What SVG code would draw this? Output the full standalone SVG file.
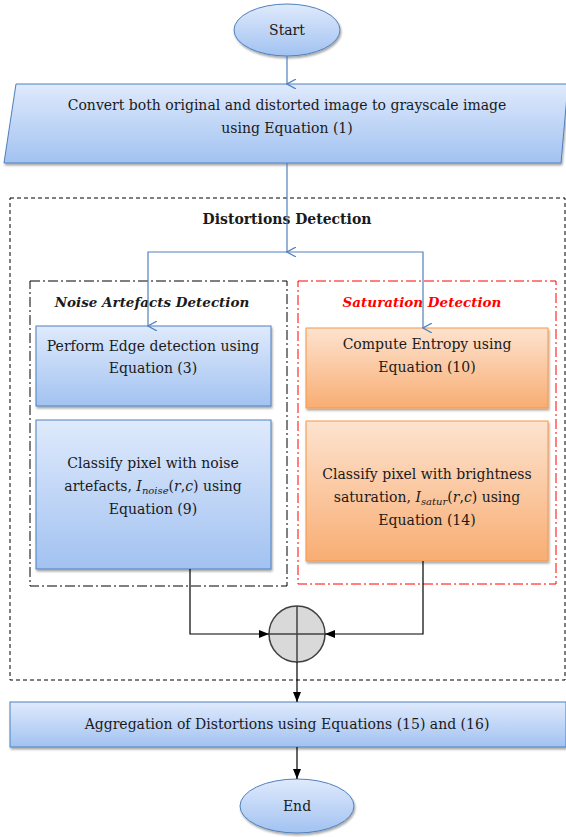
<svg xmlns="http://www.w3.org/2000/svg" width="566" height="837" viewBox="0 0 566 837">
<defs>
<linearGradient id="gBlue" x1="0" y1="0" x2="0" y2="1">
<stop offset="0" stop-color="#dfeafc"/>
<stop offset="1" stop-color="#a2c2f1"/>
</linearGradient>
<linearGradient id="gOrange" x1="0" y1="0" x2="0" y2="1">
<stop offset="0" stop-color="#fde3cf"/>
<stop offset="1" stop-color="#f8ad73"/>
</linearGradient>
<marker id="vOpen" viewBox="0 0 10 10" refX="5" refY="9" markerWidth="10" markerHeight="10" markerUnits="userSpaceOnUse" orient="auto-start-reverse">
<path d="M0,0 L5,9 L10,0" fill="none" stroke="#4f81bd" stroke-width="1.2"/>
</marker>
<marker id="tri" viewBox="0 0 10 10" refX="10" refY="5" markerWidth="10" markerHeight="10" markerUnits="userSpaceOnUse" orient="auto">
<path d="M0,1 L10,5 L0,9 Z" fill="#000"/>
</marker>
<filter id="sh" x="-5%" y="-5%" width="110%" height="120%">
<feDropShadow dx="1" dy="2" stdDeviation="1" flood-color="#000" flood-opacity="0.35"/>
</filter>
</defs>
<style>
.t{font-family:'DejaVu Serif',serif;font-size:14px;fill:#1a1a1a;text-anchor:middle}
.h{font-size:13.5px;font-weight:bold;font-style:italic}
.m{font-style:italic}
.b{stroke:#4f81bd;stroke-width:1}
.o{stroke:#f79646;stroke-width:1}
.blue{fill:none;stroke:#4f81bd;stroke-width:1.2}
.blk{fill:none;stroke:#000;stroke-width:1.2}
</style>

<g id="start">
<ellipse cx="287" cy="30" rx="53" ry="26" fill="url(#gBlue)" class="b" filter="url(#sh)"/>
<text class="t" x="287" y="35">Start</text>
</g>

<g id="convert">
<polygon points="16,84 568,84 561,163 4,163" fill="url(#gBlue)" class="b" filter="url(#sh)"/>
<text class="t" x="287" y="110">Convert both original and distorted image to grayscale image</text>
<text class="t" x="287" y="133">using Equation (1)</text>
</g>

<g id="distortions-detection">
<rect x="10" y="198" width="555" height="482" fill="none" stroke="#000" stroke-width="1" stroke-dasharray="4,3"/>
<text class="t" x="287" y="224" font-weight="bold">Distortions Detection</text>
</g>

<g id="noise-group">
<rect x="30" y="281" width="257" height="305" fill="none" stroke="#000" stroke-width="1" stroke-dasharray="10,3,2,3"/>
<text class="t h" x="152" y="307">Noise Artefacts Detection</text>
</g>

<g id="saturation-group">
<rect x="298" y="281" width="258" height="303" fill="none" stroke="#ff0000" stroke-width="1" stroke-dasharray="10,3,2,3"/>
<text class="t h" x="422" y="307" style="fill:#ff0000">Saturation Detection</text>
</g>

<g id="edge">
<rect x="36" y="326" width="235" height="80" fill="url(#gBlue)" class="b" filter="url(#sh)"/>
<text class="t" x="153" y="351">Perform Edge detection using</text>
<text class="t" x="153" y="373">Equation (3)</text>
</g>

<g id="classify-noise">
<rect x="36" y="420" width="235" height="149" fill="url(#gBlue)" class="b" filter="url(#sh)"/>
<text class="t" x="153" y="468">Classify pixel with noise</text>
<text class="t" x="153" y="491">artefacts, <tspan class="m">I</tspan><tspan class="m" font-size="10" dy="3">noise</tspan><tspan dy="-3">(</tspan><tspan class="m">r</tspan>,<tspan class="m">c</tspan>) using</text>
<text class="t" x="153" y="514">Equation (9)</text>
</g>

<g id="entropy">
<rect x="306" y="328" width="242" height="80" fill="url(#gOrange)" class="o" filter="url(#sh)"/>
<text class="t" x="427" y="349">Compute Entropy using</text>
<text class="t" x="427" y="372">Equation (10)</text>
</g>

<g id="classify-saturation">
<rect x="306" y="421" width="242" height="140" fill="url(#gOrange)" class="o" filter="url(#sh)"/>
<text class="t" x="427" y="479">Classify pixel with brightness</text>
<text class="t" x="427" y="502">saturation, <tspan class="m">I</tspan><tspan class="m" font-size="10" dy="3">satur</tspan><tspan dy="-3">(</tspan><tspan class="m">r</tspan>,<tspan class="m">c</tspan>) using</text>
<text class="t" x="427" y="525">Equation (14)</text>
</g>

<g id="sum">
<circle cx="297" cy="634" r="28" fill="#d9d9d9" stroke="#404040" stroke-width="1.5"/>
<line x1="269" y1="634" x2="325" y2="634" stroke="#404040" stroke-width="1.5"/>
<line x1="297" y1="606" x2="297" y2="662" stroke="#404040" stroke-width="1.5"/>
</g>

<g id="aggregation">
<rect x="10" y="702" width="556" height="45" fill="url(#gBlue)" class="b" filter="url(#sh)"/>
<text class="t" x="287" y="729">Aggregation of Distortions using Equations (15) and (16)</text>
</g>

<g id="end">
<ellipse cx="297" cy="806" rx="57" ry="27" fill="url(#gBlue)" class="b" filter="url(#sh)"/>
<text class="t" x="297" y="811">End</text>
</g>

<g id="connectors">
<line x1="287" y1="56" x2="287" y2="84" class="blue" marker-end="url(#vOpen)"/>
<line x1="287" y1="163" x2="287" y2="252" class="blue" marker-end="url(#vOpen)"/>
<path d="M287,252 H148 V326" class="blue" marker-end="url(#vOpen)"/>
<path d="M287,252 H423 V328" class="blue" marker-end="url(#vOpen)"/>
<path d="M190,569 V634 H269" class="blk" marker-end="url(#tri)"/>
<path d="M423,561 V634 H325" class="blk" marker-end="url(#tri)"/>
<line x1="297" y1="662" x2="297" y2="702" class="blk" marker-end="url(#tri)"/>
<line x1="297" y1="747" x2="297" y2="779" class="blk" marker-end="url(#tri)"/>
</g>
</svg>
